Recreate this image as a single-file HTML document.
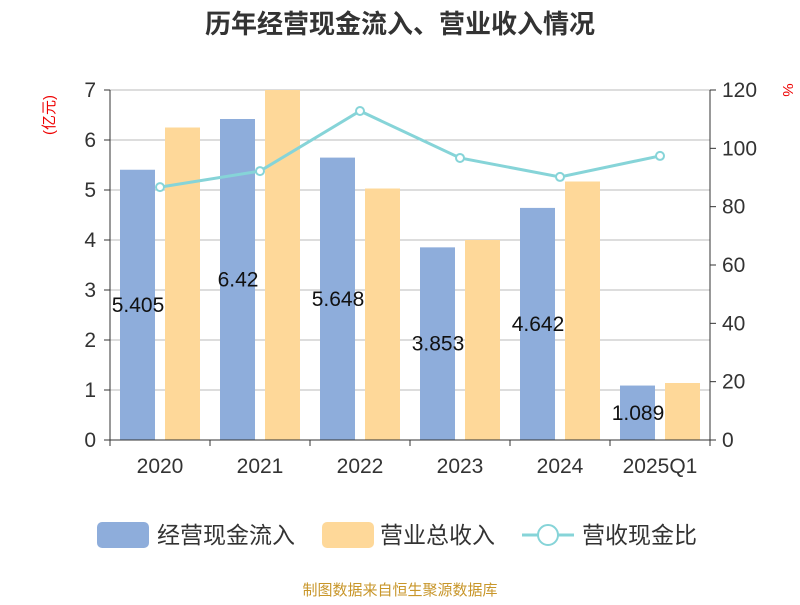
<!DOCTYPE html>
<html><head><meta charset="utf-8"><style>
body{margin:0;background:#fff;font-family:"Liberation Sans","Noto Sans CJK SC",sans-serif;}
</style></head><body>
<svg width="800" height="600" xmlns="http://www.w3.org/2000/svg" font-family="Liberation Sans, Noto Sans CJK SC, sans-serif">
<text x="400" y="33" text-anchor="middle" font-size="26" font-weight="bold" fill="#333">历年经营现金流入、营业收入情况</text>
<text transform="translate(54,115) rotate(-90)" text-anchor="middle" font-size="15" fill="#e00">(亿元)</text>
<text transform="translate(783,90) rotate(90)" text-anchor="middle" font-size="15" fill="#e00">%</text>
<g id="grid"></g><g id="bars"></g><g id="line"></g><g id="axes"></g>
<g>
<rect x="97" y="522" width="52" height="26" rx="5" fill="#8eaddb"/>
<text x="157" y="543" font-size="23" fill="#333">经营现金流入</text>
<rect x="322" y="522" width="52" height="26" rx="5" fill="#fed899"/>
<text x="380" y="543" font-size="23" fill="#333">营业总收入</text>
<line x1="522" y1="535" x2="574" y2="535" stroke="#86d4d8" stroke-width="3"/>
<circle cx="548" cy="535" r="10" fill="#fff" stroke="#86d4d8" stroke-width="2"/>
<text x="582" y="543" font-size="23" fill="#333">营收现金比</text>
</g>
<text x="400" y="595" text-anchor="middle" font-size="15" fill="#c8962a">制图数据来自恒生聚源数据库</text>
</svg>
<script>
const categories=["2020","2021","2022","2023","2024","2025Q1"];
const cashIn=[5.405,6.42,5.648,3.853,4.642,1.089];
const revenue=[6.25,7.0,5.03,4.0,5.17,1.14];
const ratio=[86.7,92.2,112.8,96.7,90.2,97.4];
const leftTicks=[0,1,2,3,4,5,6,7];
const rightTicks=[0,20,40,60,80,100,120];
const NS="http://www.w3.org/2000/svg";
const L=110,R=710,T=90,B=440;
const yL=v=>B-(v/7)*(B-T);
const yR=v=>B-(v/120)*(B-T);
const bw=(R-L)/categories.length;
const xC=i=>L+bw*(i+0.5);
function mk(tag,attrs,parent,text){const e=document.createElementNS(NS,tag);for(const k in attrs)e.setAttribute(k,attrs[k]);if(text!==undefined)e.textContent=text;document.getElementById(parent).appendChild(e);return e;}
leftTicks.forEach(t=>{
 const g=mk("line",{x1:L,x2:R,y1:yL(t),y2:yL(t),stroke:"#bbb","stroke-width":1},"grid");
 
 
 const tk=mk("line",{x1:L-6,x2:L,y1:yL(t),y2:yL(t),stroke:"#333"},"axes");
 
 
 const tx=mk("text",{x:L-14,y:yL(t)+7,"text-anchor":"end","font-size":21,fill:"#333"},"axes",String(t));
 
 
});
rightTicks.forEach(t=>{
 const tk=mk("line",{x1:R,x2:R+6,y1:yR(t),y2:yR(t),stroke:"#333"},"axes");
 
 
 const tx=mk("text",{x:R+12,y:yR(t)+7,"font-size":21,fill:"#333"},"axes",String(t));
 
 
});
let a=mk("line",{x1:L,x2:L,y1:T,y2:B,stroke:"#333"},"axes");


a=mk("line",{x1:R,x2:R,y1:T,y2:B,stroke:"#333"},"axes");


a=mk("line",{x1:L,x2:R,y1:B,y2:B,stroke:"#333"},"axes");


for(let i=0;i<=categories.length;i++){
 const tk=mk("line",{x1:L+bw*i,x2:L+bw*i,y1:B,y2:B+6,stroke:"#333"},"axes");
 
 
}
categories.forEach((c,i)=>{
 const tx=mk("text",{x:xC(i),y:B+33,"text-anchor":"middle","font-size":21,fill:"#333"},"axes",c);
 
 
 const b1=mk("rect",{x:xC(i)-40,y:yL(cashIn[i]),width:35,height:B-yL(cashIn[i]),fill:"#8eaddb"},"bars");
 
 
 const b2=mk("rect",{x:xC(i)+5,y:yL(revenue[i]),width:35,height:B-yL(revenue[i]),fill:"#fed899"},"bars");
 
 
 const lb=mk("text",{x:xC(i)-22,y:(yL(cashIn[i])+B)/2+7,"text-anchor":"middle","font-size":21,fill:"#111"},"bars",String(cashIn[i]));
 
 
});
const pl=mk("polyline",{points:ratio.map((v,i)=>xC(i)+","+yR(v)).join(" "),fill:"none",stroke:"#86d4d8","stroke-width":3},"line");


ratio.forEach((v,i)=>{
 const p=mk("circle",{cx:xC(i),cy:yR(v),r:4,fill:"#fff",stroke:"#86d4d8","stroke-width":2},"line");
 
 
});
</script>
</body></html>
